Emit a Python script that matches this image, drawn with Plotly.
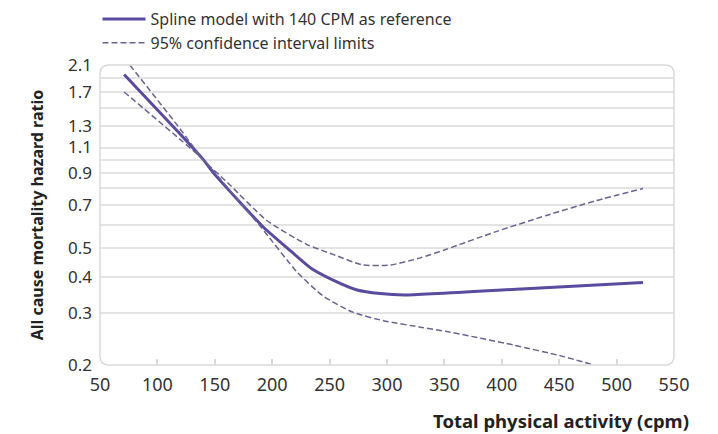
import plotly.graph_objects as go
import numpy as np

# Spline model (hazard ratio vs total physical activity, cpm)
spline_x = [71, 120, 140, 149, 192, 216, 234.5, 253, 274, 294, 315, 417, 523]
spline_y = [1.95, 1.22, 1.0, 0.90, 0.591, 0.489, 0.425, 0.389, 0.36, 0.35, 0.346, 0.363, 0.382]

upper_x = [76, 120, 140, 163, 195, 230, 253, 279, 303, 329, 352, 395, 439, 482, 523]
upper_y = [2.1, 1.27, 1.0, 0.822, 0.622, 0.515, 0.476, 0.438, 0.438, 0.463, 0.496, 0.569, 0.646, 0.725, 0.798]

lower_x = [71, 120, 140, 166, 190, 221.5, 244.6, 270.7, 297, 329, 352, 410, 453, 480]
lower_y = [1.70, 1.17, 1.0, 0.762, 0.591, 0.415, 0.343, 0.302, 0.283, 0.269, 0.26, 0.234, 0.214, 0.2]

x_ticks = [50, 100, 150, 200, 250, 300, 350, 400, 450, 500, 550]
y_grid = [0.2, 0.3, 0.4, 0.5, 0.6, 0.7, 0.8, 0.9, 1.0, 1.1, 1.3, 1.5, 1.7, 1.9, 2.1]
y_labels = ["0.2", "0.3", "0.4", "0.5", "", "0.7", "", "0.9", "", "1.1", "1.3", "", "1.7", "", "2.1"]

solid_color = "#5b4b9f"
dash_color = "#6a6390"
grid_color = "#e3e3e3"
font_family = "Noto Sans"

fig = go.Figure()
fig.add_trace(go.Scatter(x=spline_x, y=spline_y, mode="lines",
                         line=dict(color=solid_color, width=3, shape="spline", smoothing=0.6),
                         name="Spline model with 140 CPM as reference"))
fig.add_trace(go.Scatter(x=upper_x, y=upper_y, mode="lines",
                         line=dict(color=dash_color, width=1.5, dash="6px,3px",
                                   shape="spline", smoothing=0.6),
                         name="95% confidence interval limits"))
fig.add_trace(go.Scatter(x=lower_x, y=lower_y, mode="lines",
                         line=dict(color=dash_color, width=1.5, dash="6px,3px",
                                   shape="spline", smoothing=0.6),
                         name="95% confidence interval limits", showlegend=False))

W, H = 718, 434
L, R, T, B = 99.5, 43.5, 65, 69
pw, ph = W - L - R, H - T - B
r = 9
rx, ry = r / pw, r / ph
path = (f"M {rx},0 L {1-rx},0 Q 1,0 1,{ry} L 1,{1-ry} Q 1,1 {1-rx},1 "
        f"L {rx},1 Q 0,1 0,{1-ry} L 0,{ry} Q 0,0 {rx},0 Z")
fig.add_shape(type="path", path=path, xref="paper", yref="paper",
              line=dict(color="#d9d9d9", width=1.5), layer="above")

fig.add_annotation(text="<b>Total physical activity (cpm)</b>", xref="paper", yref="paper",
                   x=(692 - L) / pw, y=-(420 - (T + ph)) / ph, xanchor="right", yanchor="middle",
                   showarrow=False, font=dict(family=font_family, size=18.5, color="#222222"))

fig.update_layout(
    width=W, height=H,
    margin=dict(l=L, r=R, t=T, b=B, autoexpand=False),
    paper_bgcolor="white", plot_bgcolor="white",
    font=dict(family=font_family, size=16, color="#333333"),
    showlegend=True,
    legend=dict(x=(97 - L) / pw, y=1 + (T - 2) / ph, xanchor="left", yanchor="top",
                bgcolor="rgba(0,0,0,0)", font=dict(size=16, color="#333333"),
                itemwidth=43, tracegroupgap=0),
    xaxis=dict(range=[50, 550], tickvals=x_ticks, showgrid=False, zeroline=False,
               showline=False, ticks="", ticklabelstandoff=7,
               tickfont=dict(size=18, color="#333333"),
               minor=dict(tickvals=x_ticks[1:-1], ticks="inside", ticklen=6,
                          tickcolor="#d9d9d9", tickwidth=1.5, showgrid=False)),
    yaxis=dict(type="log", range=[np.log10(0.2), np.log10(2.1)], tickvals=y_grid,
               ticktext=y_labels, showgrid=True, gridcolor=grid_color, gridwidth=1.5,
               zeroline=False, showline=False, ticks="", ticklabelstandoff=7,
               tickfont=dict(size=17, color="#333333"),
               title=dict(text="<b>All cause mortality hazard ratio</b>", standoff=20,
                          font=dict(size=16, color="#222222"))),
)

fig.write_html("out.html")
